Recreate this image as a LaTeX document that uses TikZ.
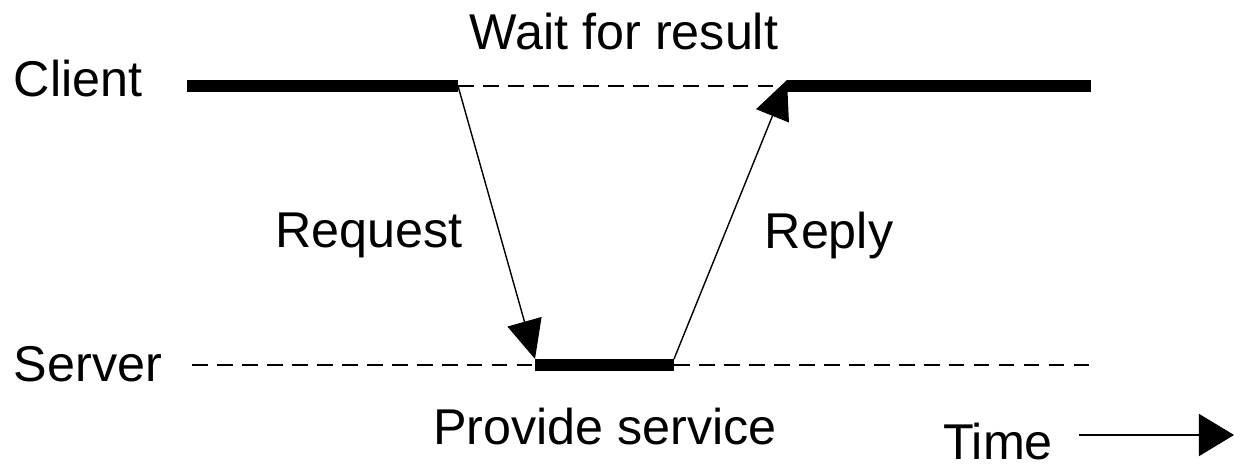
\documentclass[tikz,border=0pt]{standalone}
\usepackage{fontspec}
\setmainfont{Liberation Sans}
\usetikzlibrary{arrows.meta}

\begin{document}
\begin{tikzpicture}[x=0.01cm, y=-0.01cm]
\tikzset{texte/.style={anchor=base, inner sep=0pt, font=\fontsize{14.3pt}{16pt}\selectfont}}
\tikzset{actif/.style={line width=3.4pt, line cap=butt}}
\tikzset{attente/.style={line width=0.4pt, dash pattern=on 4.5pt off 2.6pt}}
\tikzset{message/.style={line width=0.4pt, -{Triangle[length=11pt, width=10pt]}}}
\useasboundingbox (0,0) rectangle (1234,468);
\node[texte] (client) at (78,97) {Client};
\node[texte] (serveur) at (88,382) {Server};
\node[texte] (attendre) at (624,50) {Wait for result};
\node[texte] (requete) at (369,248) {Request};
\node[texte] (reponse) at (829,249) {Reply};
\node[texte] (service) at (605,445) {Provide service};
\node[texte] (temps) at (998,460) {Time};
\coordinate (C0) at (187,86);
\coordinate (C1) at (458,86);
\coordinate (C2) at (787,86);
\coordinate (C3) at (1091,86);
\coordinate (S0) at (192,365);
\coordinate (S1) at (535,365);
\coordinate (S2) at (674,365);
\coordinate (S3) at (1091,365);
\coordinate (R1) at (535,359);
\coordinate (R2) at (674,359);
\coordinate (R3) at (787,80);
\coordinate (T0) at (1079,435);
\coordinate (T1) at (1234,435);
\draw[actif] (C0) -- (C1);
\draw[attente] (C1) -- (C2);
\draw[actif] (C2) -- (C3);
\draw[attente] (S0) -- (S1);
\draw[actif] (S1) -- (S2);
\draw[attente] (S2) -- (S3);
\draw[message] (C1) -- (R1);
\draw[message] (R2) -- (R3);
\draw[line width=0.4pt, -{Triangle[length=10pt, width=12pt]}] (T0) -- (T1);
\end{tikzpicture}
\end{document}
